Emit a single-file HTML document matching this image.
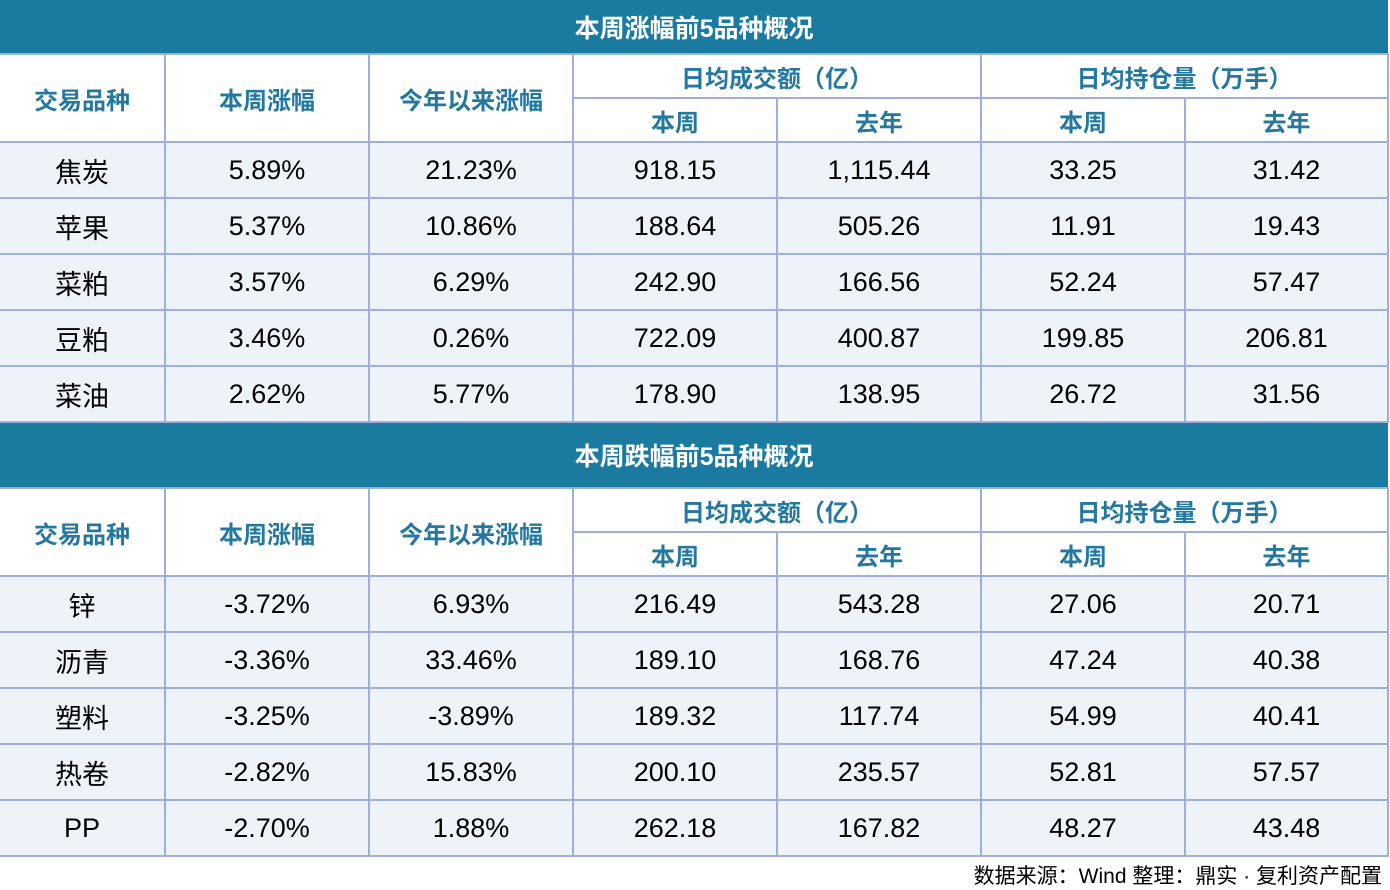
<!DOCTYPE html>
<html><head><meta charset="utf-8"><style>
body{margin:0;width:1390px;height:890px;background:#fff;overflow:hidden;font-family:"Liberation Sans","Noto Sans CJK SC",sans-serif;}
table{position:absolute;left:0;width:1388px;border-collapse:collapse;table-layout:fixed;}
td{border:2px solid #9cb1d9;text-align:center;padding:0;font-size:27px;color:#000;}
td.t{background:#1a7aa0;color:#fff;font-weight:bold;font-size:25px;border-left:none;border-right:none;border-top:none;}
td.h{color:#24789f;font-size:24px;font-weight:bold;background:#fff;}
tr.d td{background:#eef3f9;height:54px;}
tr.d td:first-child{border-left:none}
td.h:first-child{border-left:none}
.src{position:absolute;right:8px;top:860px;font-size:21px;color:#000;}
</style></head><body>
<table style="top:0">
<colgroup><col style="width:165px"><col style="width:204px"><col style="width:204px"><col style="width:204px"><col style="width:204px"><col style="width:204px"><col style="width:203px"></colgroup>
<tr><td class="t" colspan="7" style="height:53px">本周涨幅前5品种概况</td></tr>
<tr><td class="h" rowspan="2">交易品种</td><td class="h" rowspan="2">本周涨幅</td><td class="h" rowspan="2">今年以来涨幅</td><td class="h" colspan="2" style="height:42px">日均成交额（亿）</td><td class="h" colspan="2">日均持仓量（万手）</td></tr>
<tr><td class="h" style="height:42px">本周</td><td class="h">去年</td><td class="h">本周</td><td class="h">去年</td></tr>
<tr class="d"><td>焦炭</td><td>5.89%</td><td>21.23%</td><td>918.15</td><td>1,115.44</td><td>33.25</td><td>31.42</td></tr>
<tr class="d"><td>苹果</td><td>5.37%</td><td>10.86%</td><td>188.64</td><td>505.26</td><td>11.91</td><td>19.43</td></tr>
<tr class="d"><td>菜粕</td><td>3.57%</td><td>6.29%</td><td>242.90</td><td>166.56</td><td>52.24</td><td>57.47</td></tr>
<tr class="d"><td>豆粕</td><td>3.46%</td><td>0.26%</td><td>722.09</td><td>400.87</td><td>199.85</td><td>206.81</td></tr>
<tr class="d"><td>菜油</td><td>2.62%</td><td>5.77%</td><td>178.90</td><td>138.95</td><td>26.72</td><td>31.56</td></tr>
</table>
<table style="top:423px">
<colgroup><col style="width:165px"><col style="width:204px"><col style="width:204px"><col style="width:204px"><col style="width:204px"><col style="width:204px"><col style="width:203px"></colgroup>
<tr><td class="t" colspan="7" style="height:64px">本周跌幅前5品种概况</td></tr>
<tr><td class="h" rowspan="2">交易品种</td><td class="h" rowspan="2">本周涨幅</td><td class="h" rowspan="2">今年以来涨幅</td><td class="h" colspan="2" style="height:42px">日均成交额（亿）</td><td class="h" colspan="2">日均持仓量（万手）</td></tr>
<tr><td class="h" style="height:42px">本周</td><td class="h">去年</td><td class="h">本周</td><td class="h">去年</td></tr>
<tr class="d"><td>锌</td><td>-3.72%</td><td>6.93%</td><td>216.49</td><td>543.28</td><td>27.06</td><td>20.71</td></tr>
<tr class="d"><td>沥青</td><td>-3.36%</td><td>33.46%</td><td>189.10</td><td>168.76</td><td>47.24</td><td>40.38</td></tr>
<tr class="d"><td>塑料</td><td>-3.25%</td><td>-3.89%</td><td>189.32</td><td>117.74</td><td>54.99</td><td>40.41</td></tr>
<tr class="d"><td>热卷</td><td>-2.82%</td><td>15.83%</td><td>200.10</td><td>235.57</td><td>52.81</td><td>57.57</td></tr>
<tr class="d"><td>PP</td><td>-2.70%</td><td>1.88%</td><td>262.18</td><td>167.82</td><td>48.27</td><td>43.48</td></tr>
</table>
<div class="src">数据来源：Wind 整理：鼎实 · 复利资产配置</div>
</body></html>
